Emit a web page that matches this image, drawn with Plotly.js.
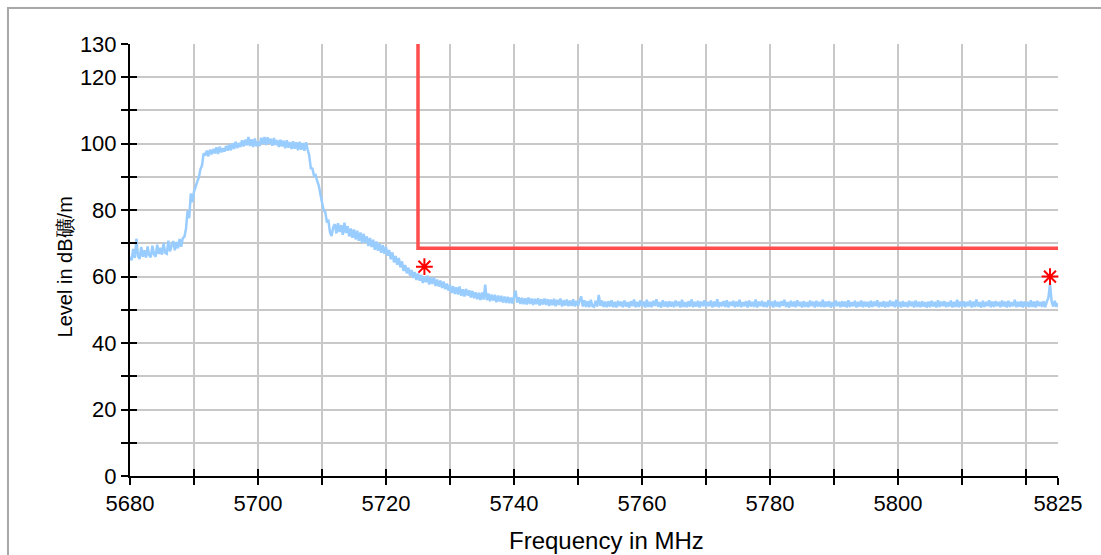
<!DOCTYPE html>
<html>
<head>
<meta charset="utf-8">
<script src="https://cdn.plot.ly/plotly-3.0.1.min.js"></script>
<style>
  html, body { margin:0; padding:0; background:#ffffff; overflow:hidden; }
  #frame { position:absolute; left:7px; top:7px; width:1200px; height:700px; border:2px solid #a8a8a8; box-shadow:1px 1px 2px #e0e0e0; }
  #chart { position:absolute; left:0; top:0; width:1101px; height:555px; }
</style>
</head>
<body>
<div id="frame"></div>
<div id="chart"></div>
<script>
// Sweep settings (MHz)
const freqStart = 5680;
const freqStep = 0.25;

// Measured level in dB礦/m, one value per sweep step (5680 ... 5825 MHz)
const levelValues = [
  66.0, 64.9, 68.3, 65.6, 71.4, 66.2, 65.3, 68.9, 66.0, 67.9, 65.7, 69.1, 66.4, 65.8, 69.3, 66.7, 66.0, 69.6, 66.8, 68.7,
  66.6, 70.1, 67.2, 66.9, 70.8, 67.6, 69.4, 70.7, 67.9, 70.4, 68.5, 71.3, 69.0, 71.6, 72.0, 74.4, 79.8, 77.6, 85.0, 82.4,
  85.6, 87.0, 88.6, 89.8, 92.3, 93.4, 97.1, 96.4, 97.9, 96.2, 98.2, 96.8, 98.4, 97.1, 98.9, 96.9, 99.1, 97.4, 98.6, 97.6,
  99.3, 97.9, 99.7, 98.0, 100.1, 98.4, 100.6, 98.7, 100.2, 99.0, 101.0, 99.2, 101.2, 99.5, 102.0, 99.3, 101.3, 99.0, 101.6, 99.2,
  100.6, 99.3, 101.8, 99.9, 102.0, 99.6, 101.9, 100.0, 101.5, 99.4, 101.7, 99.6, 101.1, 99.0, 101.2, 99.2, 100.9, 98.6, 101.0, 98.8,
  100.5, 98.4, 100.7, 98.5, 100.4, 98.0, 100.6, 98.2, 100.2, 97.9, 100.4, 98.3, 96.5, 92.6, 92.5, 90.4, 90.6, 88.7, 87.4, 84.8,
  82.4, 80.0, 79.5, 76.6, 76.8, 73.4, 72.2, 74.9, 75.8, 73.0, 76.1, 73.4, 75.5, 72.6, 76.2, 73.1, 75.2, 72.1, 74.5, 71.7,
  74.2, 71.2, 73.8, 70.8, 73.3, 70.1, 72.9, 70.2, 72.1, 69.2, 71.6, 68.9, 71.1, 68.1, 70.6, 67.8, 69.9, 67.2, 69.5, 66.9,
  68.9, 66.3, 68.0, 65.2, 67.3, 64.3, 66.2, 63.6, 65.6, 62.8, 64.6, 61.7, 63.5, 61.0, 62.7, 60.3, 62.0, 59.6, 61.4, 59.0,
  60.9, 58.8, 60.5, 58.1, 60.0, 58.3, 60.3, 57.6, 59.7, 57.8, 59.8, 57.2, 59.1, 57.0, 58.8, 56.6, 58.5, 56.2, 57.9, 55.8,
  57.5, 55.1, 57.1, 54.8, 56.8, 54.6, 57.0, 54.2, 56.2, 54.0, 56.3, 54.3, 55.9, 53.7, 55.7, 53.5, 55.3, 53.2, 55.1, 53.0,
  55.2, 53.1, 57.6, 52.9, 54.9, 52.6, 54.6, 52.8, 54.5, 52.3, 54.3, 52.5, 54.2, 52.2, 54.0, 52.1, 53.9, 52.0, 53.7, 51.9,
  54.0, 55.8, 52.2, 53.8, 51.8, 53.6, 51.7, 53.5, 51.6, 53.7, 51.8, 53.4, 51.5, 53.3, 51.7, 53.5, 51.3, 53.2, 51.6, 53.4,
  51.5, 53.2, 51.2, 53.1, 51.4, 53.3, 51.1, 53.0, 51.5, 53.4, 51.0, 52.9, 51.3, 53.1, 51.1, 52.8, 51.2, 53.2, 51.0, 52.7,
  51.2, 52.8, 54.0, 51.0, 52.9, 50.9, 52.6, 50.8, 53.0, 51.1, 50.9, 52.7, 51.0, 54.5, 51.2, 52.8, 50.9, 52.5, 50.8, 52.6,
  51.0, 52.9, 50.8, 52.4, 50.7, 52.7, 51.1, 52.5, 50.8, 52.8, 51.0, 52.3, 50.7, 52.6, 51.1, 53.1, 50.8, 52.4, 50.9, 52.9,
  51.1, 52.5, 50.7, 53.0, 50.9, 52.4, 50.8, 52.7, 51.2, 53.2, 50.9, 52.3, 50.7, 52.9, 51.0, 52.5, 50.8, 52.6, 51.0, 52.4,
  50.8, 52.8, 51.1, 52.5, 50.7, 53.0, 50.9, 52.3, 50.8, 52.6, 51.0, 53.1, 50.8, 52.4, 51.0, 52.7, 50.7, 52.5, 51.1, 52.9,
  50.9, 52.4, 51.1, 52.8, 50.7, 52.5, 51.0, 53.2, 50.8, 52.3, 51.1, 52.6, 50.9, 52.9, 50.7, 52.4, 51.2, 52.7, 50.8, 52.5,
  51.0, 53.0, 50.8, 52.3, 51.1, 52.6, 50.7, 52.8, 51.0, 52.4, 50.9, 53.1, 50.7, 52.5, 51.1, 52.7, 50.9, 52.3, 50.8, 52.9,
  51.1, 52.5, 50.7, 52.8, 51.0, 52.4, 50.8, 52.6, 51.2, 53.0, 50.9, 52.3, 50.7, 52.7, 51.0, 52.5, 50.8, 52.9, 51.1, 52.4,
  50.7, 52.6, 50.9, 52.3, 50.8, 52.8, 51.1, 52.5, 50.7, 52.7, 51.0, 52.4, 50.9, 53.0, 50.8, 52.5, 51.0, 52.6, 50.7, 52.3,
  50.9, 52.8, 51.1, 52.4, 50.8, 52.6, 51.0, 52.5, 50.7, 52.9, 50.9, 52.3, 51.1, 52.7, 50.7, 52.4, 51.0, 52.8, 50.8, 52.5,
  51.0, 52.4, 50.7, 52.7, 50.9, 52.5, 51.1, 52.9, 50.8, 52.3, 51.0, 52.6, 50.7, 52.4, 50.9, 52.8, 51.1, 52.5, 50.8, 53.0,
  50.9, 52.4, 50.7, 52.6, 51.0, 52.3, 50.8, 52.7, 51.1, 52.5, 50.7, 52.8, 50.9, 52.4, 50.8, 52.6, 51.0, 52.3, 50.7, 52.5,
  50.8, 52.7, 51.0, 52.4, 50.7, 52.9, 50.9, 52.5, 51.1, 52.6, 50.8, 52.3, 51.0, 52.8, 50.7, 52.4, 50.9, 53.0, 50.8, 52.5,
  51.0, 52.6, 50.8, 52.4, 51.1, 52.8, 50.7, 52.5, 50.9, 53.1, 51.0, 52.3, 50.7, 52.7, 50.9, 52.4, 51.1, 52.9, 50.8, 52.5,
  50.9, 52.6, 51.1, 52.4, 50.8, 52.8, 51.0, 52.5, 50.7, 52.7, 50.9, 52.3, 51.1, 53.0, 50.8, 52.4, 51.0, 52.6, 50.7, 52.5,
  51.0, 52.4, 50.8, 52.9, 50.9, 52.5, 50.7, 52.7, 51.1, 52.4, 50.9, 52.6, 50.8, 52.5, 53.6, 57.8, 52.6, 51.0, 52.7, 50.9,
  52.0
];

// Limit line
const limitFreq = [5725, 5725, 5825];
const limitLevel = [130, 68.5, 68.5];

// Peak markers
const peakFreq = [5726, 5823.75];
const peakLevel = [63, 60];

// Axes
const xRange = [5680, 5825];
const yRange = [0, 130];
const xTickVals = [5680, 5690, 5700, 5710, 5720, 5730, 5740, 5750, 5760, 5770, 5780, 5790, 5800, 5810, 5820, 5825];
const xTickText = ['5680', '', '5700', '', '5720', '', '5740', '', '5760', '', '5780', '', '5800', '', '', '5825'];
const yTickVals = [0, 10, 20, 30, 40, 50, 60, 70, 80, 90, 100, 110, 120, 130];
const yTickText = ['0', '', '20', '', '40', '', '60', '', '80', '', '100', '', '120', '130'];

const xTitle = 'Frequency in MHz';
const yTitle = 'Level in dB礦/m';

const FONT = 'Liberation Sans, Arial, Helvetica, sans-serif';

const traces = [
  {
    type: 'scatter', mode: 'lines',
    x0: freqStart, dx: freqStep, y: levelValues,
    line: { color: '#99ccff', width: 2.5, simplify: false },
    xaxis: 'x', yaxis: 'y', hoverinfo: 'skip'
  },
  {
    type: 'scatter', mode: 'lines',
    x: limitFreq, y: limitLevel,
    line: { color: '#ff4d4d', width: 3.5 },
    xaxis: 'x2', yaxis: 'y2', hoverinfo: 'skip', cliponaxis: false
  },
  {
    type: 'scatter', mode: 'markers',
    x: peakFreq, y: peakLevel,
    marker: { symbol: 'asterisk-open', size: 14, color: '#ff0000', line: { color: '#ff0000', width: 2 } },
    xaxis: 'x2', yaxis: 'y2', hoverinfo: 'skip', cliponaxis: false
  }
];

const baseX = {
  range: xRange, tickmode: 'array', tickvals: xTickVals,
  tickcolor: '#000', tickwidth: 2, ticklen: 7, zeroline: false, fixedrange: true
};
const baseY = {
  range: yRange, tickmode: 'array', tickvals: yTickVals,
  tickcolor: '#000', tickwidth: 2, ticklen: 7, zeroline: false, fixedrange: true
};

const layout = {
  width: 1101, height: 555,
  margin: { l: 130, r: 43, t: 44, b: 79, pad: 0 },
  paper_bgcolor: 'rgba(0,0,0,0)',
  plot_bgcolor: 'rgba(0,0,0,0)',
  showlegend: false,
  font: { family: FONT, size: 22, color: '#000' },
  xaxis: Object.assign({}, baseX, {
    ticktext: xTickText, ticks: 'outside',
    showgrid: true, gridcolor: '#c8c8c8', gridwidth: 2,
    showline: true, linecolor: '#000', linewidth: 2,
    tickfont: { family: FONT, size: 22, color: '#000' }
  }),
  yaxis: Object.assign({}, baseY, {
    ticktext: yTickText, ticks: 'outside',
    showgrid: true, gridcolor: '#c8c8c8', gridwidth: 2,
    showline: true, linecolor: '#000', linewidth: 2,
    tickfont: { family: FONT, size: 22, color: '#000' }
  }),
  xaxis2: Object.assign({}, baseX, {
    overlaying: 'x', anchor: 'y2', side: 'bottom', ticks: 'inside',
    showticklabels: false, showgrid: false, showline: false
  }),
  yaxis2: Object.assign({}, baseY, {
    overlaying: 'y', anchor: 'x2', side: 'left', ticks: 'inside',
    showticklabels: false, showgrid: false, showline: false
  }),
  annotations: [
    {
      text: xTitle, xref: 'paper', yref: 'paper', x: 0.514, y: -0.150,
      xanchor: 'center', yanchor: 'middle', showarrow: false,
      font: { family: FONT, size: 24, color: '#000' }
    },
    {
      text: yTitle, xref: 'paper', yref: 'paper', x: -0.070, y: 0.483,
      xanchor: 'center', yanchor: 'middle', showarrow: false, textangle: -90,
      font: { family: FONT, size: 20, color: '#000' }
    }
  ]
};

Plotly.newPlot('chart', traces, layout, { staticPlot: true, displayModeBar: false });
</script>
</body>
</html>
